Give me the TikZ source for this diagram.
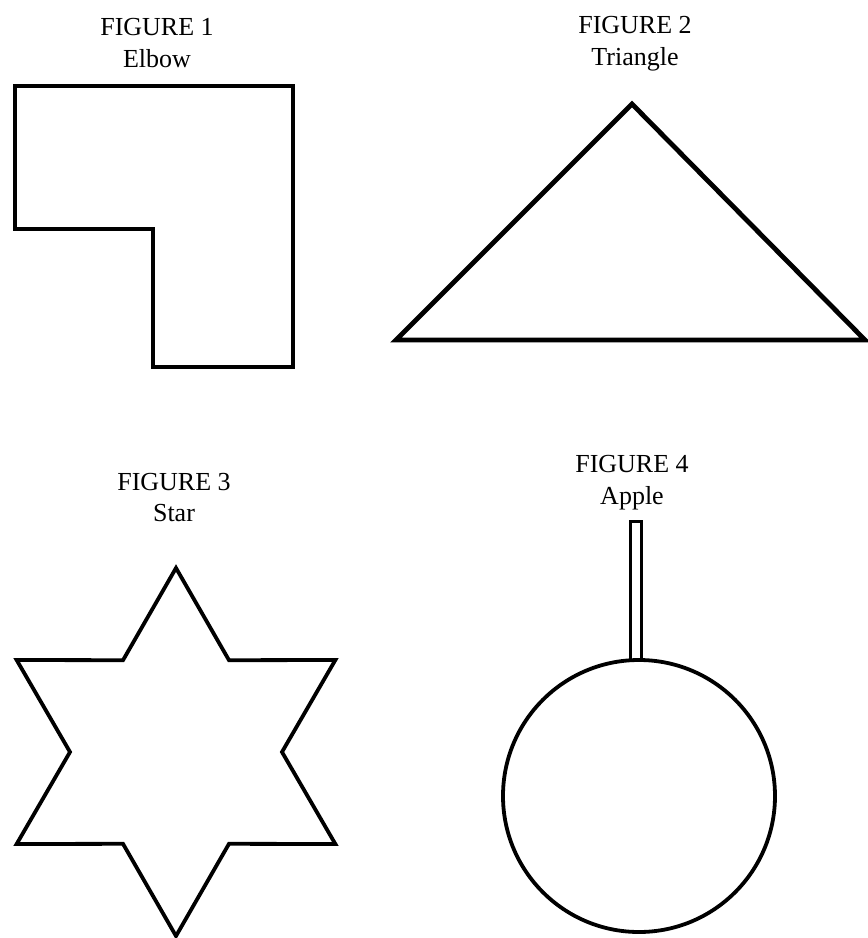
\documentclass[tikz,border=0pt]{standalone}
\usepackage{fontspec}
\setmainfont{Liberation Serif}
\usetikzlibrary{positioning, calc}

\begin{document}
\begin{tikzpicture}[x=0.5pt, y=-0.5pt, line join=miter,
      outline/.style={draw, line width=2.4pt},
      thinline/.style={draw, line width=1.9pt},
      caption/.style={font=\fontsize{13}{15}\selectfont, inner sep=0pt, anchor=base},
      shapename/.style={font=\fontsize{13}{15}\selectfont, inner sep=0pt}]

    \useasboundingbox (0,0) rectangle (868,938);

    % Figure 1: elbow
    \node[caption] (fig1) at (157,35) {FIGURE 1};
    \node[shapename, below=6.5pt of fig1] (elbow) {Elbow};
    \draw[outline] (15,86) -- (293,86) -- (293,367) -- (153,367)
        -- (153,229) -- (15,229) -- cycle;

    % Figure 2: triangle
    \node[caption] (fig2) at (635,33) {FIGURE 2};
    \node[shapename, below=6.5pt of fig2] (triangle) {Triangle};
    \draw[outline] (632,104) -- (865,340) -- (396,340) -- cycle;

    % Figure 3: star (centre, outer and inner radius)
    \def\sx{176}
    \def\sy{752}
    \node[caption] (fig3) at (174,490) {FIGURE 3};
    \node[shapename, below=6.5pt of fig3] (star) {Star};
    \draw[thinline] (\sx,\sy) ++(90:184)
      \foreach \a in {0,60,...,300} {
        -- ($(\sx,\sy)+(\a+120:106)$) -- ($(\sx,\sy)+(\a+150:184)$)
      } -- cycle;

    % Figure 4: apple
    \node[caption] (fig4) at (632,472) {FIGURE 4};
    \node[shapename, below=6.5pt of fig4] (apple) {Apple};
    \draw[thinline] (639,796) circle (136);
    \draw[line width=1.5pt] (630,521) rectangle (641,660);

\end{tikzpicture}
\end{document}
